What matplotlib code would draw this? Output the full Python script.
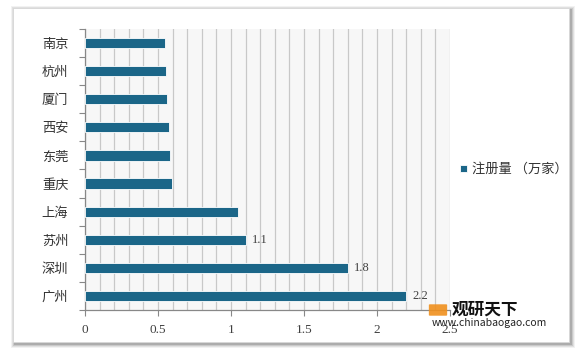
import matplotlib
matplotlib.use("Agg")
import matplotlib.pyplot as plt
from matplotlib.patches import Rectangle, FancyBboxPatch

plt.rcParams['font.family'] = ['Noto Sans CJK SC', 'DejaVu Sans']

cities = ["南京", "杭州", "厦门", "西安", "东莞", "重庆", "上海", "苏州", "深圳", "广州"]
values = [0.545, 0.553, 0.562, 0.575, 0.585, 0.595, 1.045, 1.1, 1.8, 2.2]
shown_labels = {"苏州": "1.1", "深圳": "1.8", "广州": "2.2"}
xticks = [0, 0.5, 1, 1.5, 2, 2.5]
xtick_labels = ["0", "0.5", "1", "1.5", "2", "2.5"]
series_name = "注册量 （万家）"

BAR = "#1b6688"
W, H = 580, 352

fig = plt.figure(figsize=(5.8, 3.52), dpi=100)
fig.patch.set_facecolor("white")

# card with soft shadow
for i, a in enumerate([0.05, 0.07, 0.10, 0.14]):
    off = 4 - i
    fig.patches.append(Rectangle(((13 - off + 2) / W, 1 - (342 + off + 2) / H),
                                 (556 + 2 * off) / W, (334 + 2 * off) / H,
                                 transform=fig.transFigure, facecolor="black",
                                 alpha=a, edgecolor="none", zorder=0))
fig.patches.append(Rectangle((13 / W, 1 - 342 / H), 556 / W, 334 / H,
                             transform=fig.transFigure, facecolor="white",
                             edgecolor="#d8d8d8", lw=0.6, zorder=1))

ax = fig.add_axes([85 / W, 1 - 310 / H, 365 / W, 281 / H], zorder=2)
ax.set_facecolor("#f7f7f7")

ypos = list(range(len(cities)))
bars = ax.barh(ypos, values, height=0.36, color=BAR, edgecolor="white",
               linewidth=0.6, label=series_name, zorder=3)
for y, c, v in zip(ypos, cities, values):
    if c in shown_labels:
        ax.text(v + 0.04, y, shown_labels[c], va="center", ha="left",
                fontsize=9, color="#404040", family=["Liberation Serif", "DejaVu Serif"],
                zorder=4)

ax.set_ylim(len(cities) - 0.5, -0.5)
ax.set_xlim(0, 2.5)
ax.set_yticks(ypos)
ax.set_yticklabels(cities, fontsize=9.5, color="#333333")
ax.set_yticks([y - 0.5 for y in range(len(cities) + 1)], minor=True)
ax.tick_params(axis="y", which="major", length=0, pad=12)
ax.tick_params(axis="y", which="minor", length=4, color="#888888", width=0.8)

ax.set_xticks(xticks)
ax.set_xticklabels(xtick_labels, fontsize=9.5, color="#404040",
                   family=["Liberation Serif", "DejaVu Serif"])
ax.set_xticks([i / 10 for i in range(26)], minor=True)
ax.tick_params(axis="x", which="major", length=4, color="#888888", width=0.8, pad=6)
ax.tick_params(axis="x", which="minor", length=0)
ax.grid(axis="x", which="both", color="#c8c8c8", lw=0.9, zorder=0)
ax.set_axisbelow(True)

for s in ["top", "right"]:
    ax.spines[s].set_visible(False)
for s in ["left", "bottom"]:
    ax.spines[s].set_color("#888888")
    ax.spines[s].set_linewidth(0.9)

leg = ax.legend(loc="center left", bbox_to_anchor=(0.995, 0.5), frameon=False,
                fontsize=9.5, handlelength=0.5, handleheight=0.5, handletextpad=0.4)
for t in leg.get_texts():
    t.set_color("#333333")

# watermark
fig.text(452 / W, 1 - 310 / H, "观研天下", fontsize=12, fontweight="bold",
         color="#111111", ha="left", va="center", zorder=5)
fig.text(432 / W, 1 - 323 / H, "www.chinabaogao.com", fontsize=7.5,
         color="#222222", ha="left", va="center", zorder=5)
fig.patches.append(FancyBboxPatch((430 / W, 1 - 315 / H), 16 / W, 10 / H,
                                  boxstyle="round,pad=0.002", transform=fig.transFigure,
                                  facecolor="#f0901e", edgecolor="none", alpha=0.9, zorder=5))

fig.savefig("out.png", dpi=100)
